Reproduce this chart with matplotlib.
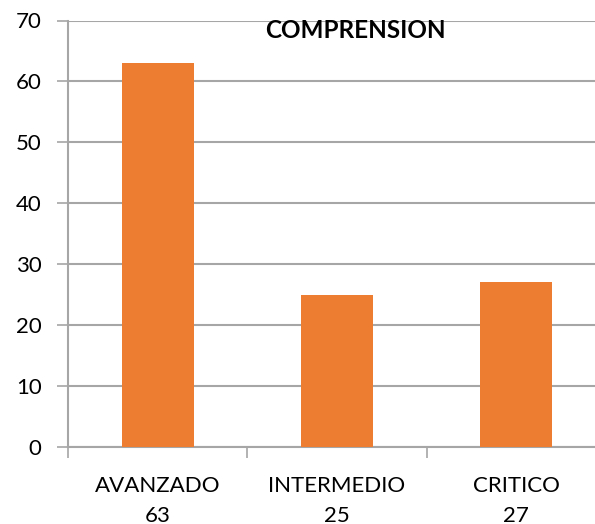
import numpy as np
from matplotlib import pyplot as plt

# niveles de comprension
categories = ['AVANZADO', 'INTERMEDIO', 'CRITICO']
values = [63, 25, 27]
yticks = [0, 10, 20, 30, 40, 50, 60, 70]

plt.rcParams['font.family'] = ['Lato', 'DejaVu Sans']

fig = plt.figure(figsize=(5.95, 5.24), dpi=100)
# the original is cropped on the right, so the axes run past the figure edge
ax = fig.add_axes([68 / 595, 77 / 524, 538 / 595, 426.5 / 524])

x = np.arange(len(categories))
ax.bar(x, values, width=0.4, color='#ED7D31', zorder=3)

ax.set_xlim(-0.5, len(categories) - 0.5)
ax.set_ylim(0, 70)
ax.set_yticks(yticks)
ax.yaxis.grid(True, color='#A6A6A6', linewidth=1.5, zorder=0)
ax.tick_params(axis='y', length=8, width=1.2, color='#A6A6A6', pad=11,
               labelsize=16, labelcolor='black')

# boundaries get the tick marks, centres get the labels
ax.set_xticks(np.arange(len(categories) + 1) - 0.5)
ax.set_xticklabels([])
ax.tick_params(axis='x', which='major', length=8, width=1.2, color='#A6A6A6')
ax.set_xticks(x, minor=True)
ax.set_xticklabels([f'{c}\n{v}' for c, v in zip(categories, values)],
                   minor=True, fontsize=16, linespacing=1.6)
ax.tick_params(axis='x', which='minor', length=0, pad=21)

for side in ['top', 'right']:
    ax.spines[side].set_visible(False)
for side in ['left', 'bottom']:
    ax.spines[side].set_color('#A6A6A6')
    ax.spines[side].set_linewidth(1.5)

fig.text(355 / 595, 1 - 30 / 524, 'COMPRENSION', fontsize=17.5, fontweight='bold',
         ha='center', va='center')

fig.savefig('out.png', dpi=100)
